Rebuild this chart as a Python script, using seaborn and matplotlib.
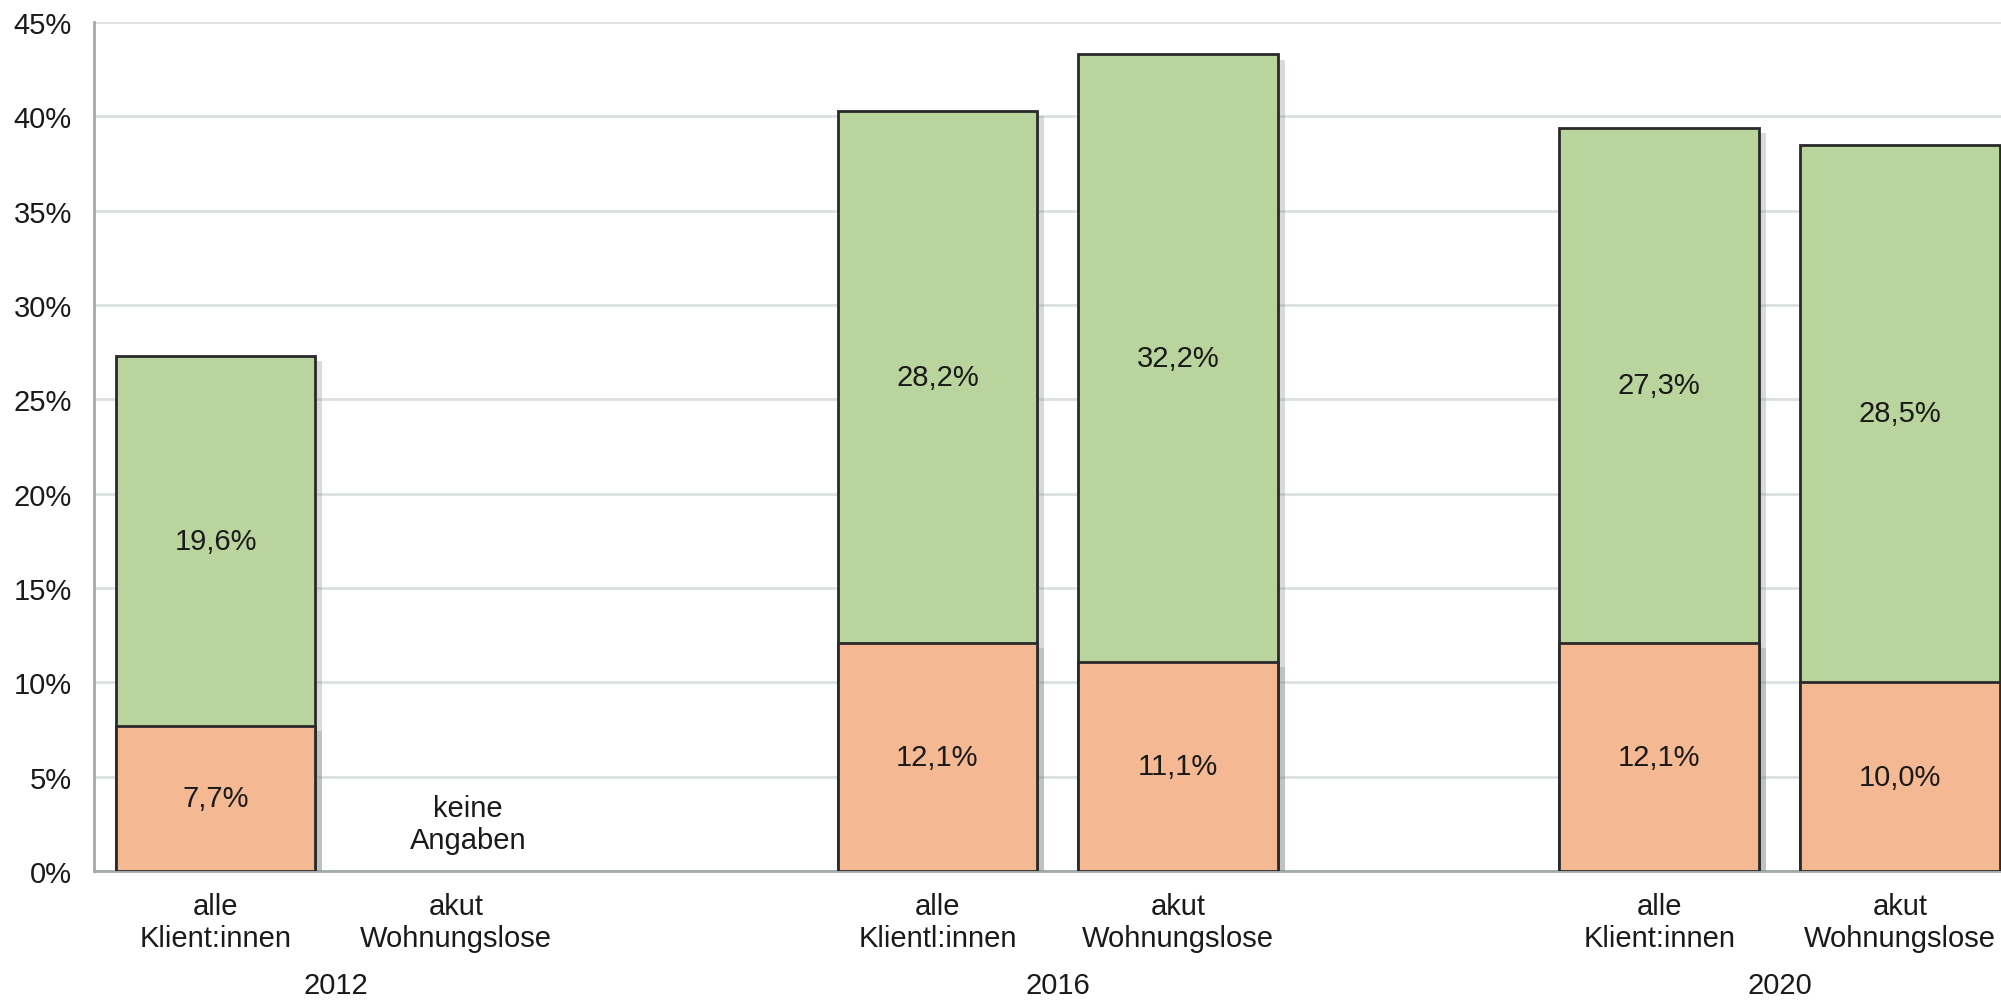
import numpy as np
import pandas as pd
import matplotlib
matplotlib.use("Agg")
import matplotlib.pyplot as plt
import seaborn as sns
from matplotlib import patheffects as pe

# ---------------- data ----------------
years = ["2012", "2016", "2020"]
tick_labels = ["alle\nKlient:innen", "akut\nWohnungslose",
               "alle\nKlientl:innen", "akut\nWohnungslose",
               "alle\nKlient:innen", "akut\nWohnungslose"]
orange_vals = [7.7, np.nan, 12.1, 11.1, 12.1, 10.0]
green_vals = [19.6, np.nan, 28.2, 32.2, 27.3, 28.5]
no_data_label = "keine\nAngaben"
y_ticks = [0, 5, 10, 15, 20, 25, 30, 35, 40, 45]

# ---------------- style ----------------
sns.set_style("white")
plt.rcParams["font.family"] = ["Liberation Sans", "DejaVu Sans"]
TXT = "#1a1a1a"
ORANGE = "#F4B992"
GREEN = "#B9D49D"
EDGE = "#2a2a2a"
AXC = "#A3AAAA"
GRID = "#DDE0E0"
FS = 21

n_groups = 2
idx = np.arange(len(orange_vals))
pos = (idx // n_groups) * (n_groups + 1) + (idx % n_groups)
df = pd.DataFrame({
    "pos": pos.astype(float),
    "orange": orange_vals,
    "green": green_vals,
})
df["total"] = df["orange"] + df["green"]
valid = df.dropna()

fig = plt.figure(figsize=(20.01, 10.03), dpi=100)
ax = fig.add_axes([94 / 2001, 131 / 1003, (2001 - 94) / 2001, (872 - 23) / 1003])

shadow = [pe.SimplePatchShadow(offset=(5, -4), shadow_rgbFace="#7f8a8a", alpha=0.3), pe.Normal()]

sns.barplot(data=valid, x="pos", y="total", native_scale=True, orient="x",
            color=GREEN, saturation=1, edgecolor=EDGE, linewidth=2,
            width=0.83, errorbar=None, ax=ax)
sns.barplot(data=valid, x="pos", y="orange", native_scale=True, orient="x",
            color=ORANGE, saturation=1, edgecolor=EDGE, linewidth=2,
            width=0.83, errorbar=None, ax=ax)
for p in ax.patches:
    p.set_path_effects(shadow)
    p.set_zorder(3)

# value labels
def fmt(v):
    return f"{v:.1f}".replace(".", ",") + "%"

for _, r in valid.iterrows():
    ax.text(r["pos"], r["orange"] / 2, fmt(r["orange"]), ha="center", va="center",
            fontsize=FS, color=TXT, zorder=5)
    ax.text(r["pos"], r["orange"] + r["green"] / 2, fmt(r["green"]), ha="center",
            va="center", fontsize=FS, color=TXT, zorder=5)
for _, r in df[df["orange"].isna()].iterrows():
    ax.text(r["pos"] + 0.05, 2.5, no_data_label, ha="center", va="center",
            fontsize=FS, color=TXT, linespacing=1.2, zorder=5)

# axes
ax.set_xlim(-0.505, 7.42)
ax.set_ylim(0, 45)
ax.set_yticks(y_ticks)
ax.set_yticklabels([f"{t}%" for t in y_ticks], fontsize=FS, color=TXT)
ax.set_xticks(df["pos"])
ax.set_xticklabels(tick_labels, fontsize=FS, color=TXT, linespacing=1.2)
ax.tick_params(axis="x", length=0, pad=15)
ax.tick_params(axis="y", length=7, width=1.5, color=AXC, pad=9, direction="out")
ax.set_xlabel("")
ax.set_ylabel("")
ax.yaxis.grid(True, color=GRID, linewidth=2)
ax.xaxis.grid(False)
ax.set_axisbelow(True)
for s in ["top", "right"]:
    ax.spines[s].set_visible(False)
for s in ["left", "bottom"]:
    ax.spines[s].set_color(AXC)
    ax.spines[s].set_linewidth(2)

# year labels
for g, yr in enumerate(years):
    ax.text(g * (n_groups + 1) + (n_groups - 1) / 2, -0.134, yr,
            transform=ax.get_xaxis_transform(), ha="center", va="center",
            fontsize=FS, color=TXT)

fig.savefig("out.png", dpi=100)
